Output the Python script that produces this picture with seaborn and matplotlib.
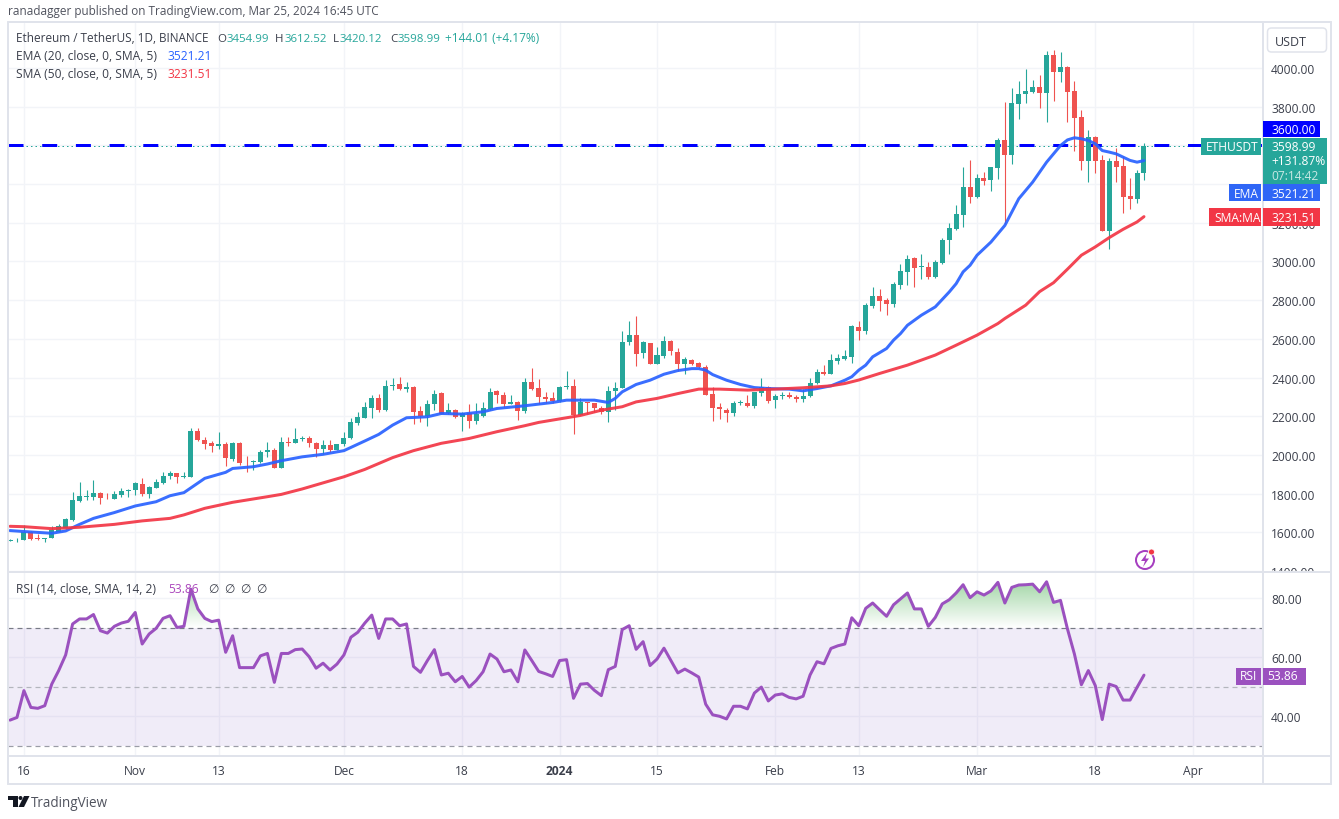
import numpy as np
import pandas as pd
import matplotlib
matplotlib.use("Agg")
import matplotlib.pyplot as plt
from matplotlib.patches import Rectangle, Circle, Polygon, FancyBboxPatch
from matplotlib.colors import LinearSegmentedColormap
from matplotlib.path import Path
import seaborn as sns

# ---------- data ----------
opens = [1556,1558,1559,1603,1568,1566,1569,1604,1624,1664,1763,1785,1784,1804,1783,1772,1793,1815,1817,1851,
         1800,1830,1853,1891,1904,1888,1884,2125,2078,2059,2044,2056,1978,2063,1964,1962,1965,2013,2025,1934,
         2068,2059,2082,2086,2063,2029,2053,2027,2054,2085,2163,2192,2244,2295,2232,2357,2364,2340,2353,2226,
         2199,2261,2318,2215,2232,2197,2219,2175,2202,2238,2330,2312,2264,2275,2228,2378,2346,2300,2295,2278,
         2352,2357,2206,2269,2268,2240,2222,2329,2347,2581,2622,2526,2579,2472,2512,2589,2532,2471,2493,2473,
         2456,2315,2248,2234,2218,2268,2268,2254,2319,2350,2283,2307,2310,2297,2290,2303,2372,2426,2418,2486,
         2496,2507,2663,2639,2772,2822,2801,2782,2880,2944,3018,2972,2973,2918,2992,3109,3169,3238,3384,3333,
         3432,3419,3482,3628,3551,3814,3863,3874,3904,3871,4067,3978,4003,3883,3745,3518,3644,3524,3156,3518,
         3491,3338,3324,3454.99]
closes = [1559,1561,1604,1565,1565,1567,1610,1631,1668,1768,1789,1788,1804,1779,1782,1798,1815,1817,1853,1796,
          1836,1858,1892,1906,1886,1892,2125,2076,2056,2044,2056,1982,2063,1960,1962,1970,2016,2025,1934,2068,
          2064,2083,2086,2060,2030,2051,2027,2056,2089,2168,2194,2247,2295,2230,2357,2358,2340,2352,2223,2202,
          2264,2316,2213,2232,2197,2219,2175,2209,2240,2326,2309,2264,2275,2228,2378,2343,2297,2290,2280,2352,
          2355,2206,2271,2268,2240,2222,2331,2348,2584,2622,2524,2581,2471,2515,2589,2536,2471,2495,2471,2453,
          2312,2243,2235,2218,2268,2271,2254,2323,2350,2281,2307,2310,2297,2290,2307,2374,2426,2416,2489,2502,
          2512,2665,2639,2777,2822,2798,2780,2885,2949,3014,2966,2974,2918,2997,3112,3174,3243,3384,3333,3432,
          3418,3487,3628,3551,3819,3866,3883,3904,3871,4067,3978,4003,3878,3740,3518,3644,3518,3156,3518,3487,
          3334,3324,3455,3598.99]
highs = [1565,1568,1640,1605,1590,1570,1634,1645,1672,1806,1858,1818,1868,1807,1804,1813,1830,1822,1861,1879,
         1838,1873,1913,1917,1907,1910,2137,2140,2094,2071,2119,2068,2068,2066,1996,1976,2023,2068,2037,2094,
         2094,2137,2099,2099,2066,2077,2077,2058,2116,2189,2220,2271,2312,2316,2385,2395,2404,2378,2355,2254,
         2285,2336,2323,2268,2236,2222,2261,2268,2275,2347,2336,2326,2309,2280,2395,2447,2390,2326,2323,2355,
         2433,2390,2295,2275,2270,2254,2357,2378,2641,2691,2718,2587,2580,2558,2615,2592,2553,2507,2498,2481,
         2464,2352,2266,2240,2278,2283,2309,2326,2395,2355,2317,2326,2323,2312,2340,2395,2446,2464,2524,2524,
         2541,2670,2691,2787,2868,2860,2810,2894,2985,3032,3022,3040,2997,3006,3121,3197,3293,3487,3522,3450,
         3462,3490,3637,3823,3895,3931,3995,3940,3964,4088,4093,4081,4008,3935,3783,3677,3648,3551,3534,3585,
         3544,3432,3470,3612.52]
lows = [1553,1552,1558,1558,1562,1548,1568,1600,1620,1660,1755,1765,1767,1748,1772,1770,1784,1784,1791,1789,
        1779,1828,1850,1875,1855,1879,1884,2071,2033,2016,2033,1942,1970,1948,1913,1923,1956,1990,1934,1932,
        2045,2059,2072,2042,1991,2003,2017,2025,2048,2082,2154,2190,2192,2223,2226,2338,2336,2323,2158,2168,
        2151,2233,2210,2209,2192,2123,2140,2158,2198,2233,2268,2247,2262,2180,2218,2335,2261,2268,2266,2276,
        2343,2106,2204,2214,2223,2214,2171,2231,2345,2570,2460,2501,2470,2470,2501,2515,2433,2417,2466,2450,
        2310,2175,2188,2171,2202,2257,2249,2240,2305,2269,2244,2288,2295,2271,2274,2300,2364,2414,2416,2472,
        2490,2477,2593,2624,2760,2743,2722,2765,2860,2877,2868,2908,2908,2916,2985,3040,3161,3178,3303,3330,
        3393,3362,3424,3195,3505,3737,3819,3870,3794,3723,3830,3929,3723,3573,3470,3413,3456,3156,3063,3413,
        3250,3272,3303,3420.12]

ema_idx = [0,2,6,8,10,12,15,18,21,23,25,28,31,32,35,37,39,42,45,48,51,53,55,57,60,62,65,68,70,74,78,80,84,86,87,88,
           90,92,94,96,98,99,100,101,103,105,107,109,112,114,116,118,120,121,122,123,124,126,127,128,129,131,133,
           135,136,137,138,139,141,143,145,147,149,150,151,152,153,154,155,156,157,158,159,160,161,162,163]
ema_vals = [1609,1604,1595,1607,1641,1672,1702,1736,1758,1789,1805,1879,1910,1930,1939,1953,1970,1990,2003,2022,2072,
            2106,2154,2192,2197,2214,2211,2223,2240,2254,2271,2283,2283,2271,2292,2326,2364,2386,2417,2436,2446,2446,
            2438,2415,2386,2364,2348,2343,2340,2331,2343,2357,2386,2404,2438,2464,2507,2550,2593,2627,2670,2722,2765,
            2842,2885,2946,2980,3032,3100,3186,3324,3410,3513,3556,3599,3628,3639,3634,3625,3608,3573,3565,3556,3539,
            3522,3513,3521.21]

sma_idx = [0,2,6,10,15,19,23,25,28,32,37,39,42,48,51,55,58,62,66,70,74,76,80,82,85,88,90,93,96,99,102,106,110,114,118,
           120,122,125,129,133,136,139,142,143,146,148,150,152,154,156,158,160,162,163]
sma_vals = [1631,1629,1619,1626,1641,1659,1672,1690,1724,1755,1784,1796,1824,1887,1925,1986,2022,2060,2085,2120,2151,
            2168,2192,2204,2231,2249,2274,2292,2317,2340,2340,2335,2340,2347,2357,2369,2387,2421,2464,2516,2567,2619,
            2679,2705,2774,2844,2890,2960,3032,3075,3123,3166,3204,3231.51]

rsi_vals = [38.6,39.5,48.6,42.9,42.6,43.5,50.8,55.4,60.7,71.2,72.9,72.9,74.4,68.9,68.1,70.4,71.5,72.1,75.1,64.4,
            67.8,69.7,73.1,74.0,70.0,70.4,83.0,76.3,73.1,72.0,72.5,61.6,67.2,56.4,56.4,56.4,60.4,61.2,51.4,61.2,
            61.2,62.5,62.7,60.1,56.2,57.9,55.6,57.6,60.7,66.7,68.4,71.5,74.2,66.3,72.9,72.9,70.6,71.2,56.8,54.8,
            58.8,62.5,53.9,54.5,51.6,53.4,49.8,52.0,55.0,61.0,59.3,55.0,55.6,51.6,62.4,58.8,55.1,54.3,53.4,58.8,
            59.1,46.0,50.8,51.0,48.7,46.9,55.7,56.8,69.3,70.6,62.6,65.2,57.1,59.3,63.0,58.8,54.6,55.9,54.6,53.2,
            44.0,40.4,39.9,39.0,43.3,43.3,42.4,47.8,49.8,45.1,47.1,47.5,46.3,45.8,46.7,53.9,58.4,57.7,62.9,63.8,
            64.4,73.3,70.6,76.5,78.3,76.0,73.8,77.7,79.7,81.7,76.3,76.3,70.4,73.4,78.0,79.4,81.7,84.5,80.1,82.1,
            81.0,82.4,85.3,78.3,83.6,84.4,84.5,84.7,82.1,85.5,78.5,79.2,69.5,61.0,50.6,55.4,50.3,38.8,50.8,50.0,
            45.4,45.4,49.7,53.86]

price_ticks = [1400,1600,1800,2000,2200,2400,2600,2800,3000,3200,3400,3600,3800,4000]
hidden_price_labels = [3400,3600]
rsi_ticks = [40,60,80]
time_tick_idx = [2,18,30,48,65,79,93,110,122,139,156,170]
time_tick_labels = ["16","Nov","13","Dec","18","2024","15","Feb","13","Mar","18","Apr"]
bold_ticks = ["2024"]

# ---------- style ----------
W, H = 1339, 820
sns.set_theme(style="white")
FONT = ["Open Sans", "DejaVu Sans"]
plt.rcParams["font.family"] = FONT
plt.rcParams["lines.scale_dashes"] = False

GREEN, RED, BLUE, SMA_RED = "#26a69a", "#ef5350", "#2962ff", "#f23645"
PURPLE, TXT, BORDER, GRID = "#9b51bf", "#3b3f4b", "#e0e3eb", "#f2f4f8"
px = 0.72  # points per pixel at dpi 100

def fx(x): return x / W
def fy(y): return 1 - y / H
def axes_rect(x0, y0, x1, y1):
    return [fx(x0), fy(y1), (x1 - x0) / W, (y1 - y0) / H]

fig = plt.figure(figsize=(W / 100, H / 100), dpi=100, facecolor="white")
ax = fig.add_axes(axes_rect(8, 24, 1262, 572))
ax_r = fig.add_axes(axes_rect(8, 573, 1262, 757))

X0, STEP = 10.0, 6.957
xlim = ((8 - X0) / STEP, (1262 - X0) / STEP)

df = pd.DataFrame({"open": opens, "high": highs, "low": lows, "close": closes})
df["i"] = np.arange(len(df))
df["color"] = np.where(df["close"] >= df["open"], GREEN, RED)

# ---------- main pane ----------
for a in (ax, ax_r):
    a.set_xlim(*xlim)
    a.set_xticks(time_tick_idx)
    a.grid(True, axis="both", color=GRID, lw=1.4 * px, zorder=0)
    a.set_axisbelow(True)
    for s in a.spines.values():
        s.set_visible(False)

ax.set_ylim(4000 - (572 - 69) / 0.19375, 4000 + (69 - 24) / 0.19375)
ax.yaxis.tick_right()
ax.set_yticks(price_ticks)
ax.set_yticklabels(["" if p in hidden_price_labels else f"{p:.2f}" for p in price_ticks], fontsize=12 * px, color=TXT)
ax.tick_params(axis="y", length=0, pad=9 * px)
ax.tick_params(axis="x", length=0, labelbottom=False)

# level line and last price line
ax.axhline(3600, color="#0000ff", lw=3 * px, ls=(0, (15 * px, 18.7 * px)), zorder=1.5, dash_capstyle="butt")
ax.axhline(3598.99, color=GREEN, lw=1 * px, ls=(0, (1.5 * px, 3 * px)), zorder=1.4)

ax.vlines(df["i"], df["low"], df["high"], colors=df["color"], lw=1.1 * px, zorder=2)
ax.bar(df["i"], (df["close"] - df["open"]).abs().clip(lower=3), bottom=df[["open", "close"]].min(axis=1),
       width=0.72, color=df["color"], edgecolor="none", zorder=3)

sns.lineplot(x=ema_idx, y=ema_vals, ax=ax, color=BLUE, lw=3 * px, estimator=None, sort=False, zorder=4, alpha=0.92)
sns.lineplot(x=sma_idx, y=sma_vals, ax=ax, color=SMA_RED, lw=3 * px, estimator=None, sort=False, zorder=4, alpha=0.92)
ax.set_xlabel(""); ax.set_ylabel("")

# clip the price scale to its pane
clip = Rectangle((8 / W, fy(572)), 1331 / W, 548 / H, transform=fig.transFigure)
for lab in ax.get_yticklabels():
    lab.set_clip_path(clip)

# ---------- RSI pane ----------
ax_r.set_ylim(80 - (757 - 599) / 2.95, 80 + (599 - 573) / 2.95)
ax_r.yaxis.tick_right()
ax_r.set_yticks(rsi_ticks)
ax_r.set_yticklabels([f"{p:.2f}" for p in rsi_ticks], fontsize=12 * px, color=TXT)
ax_r.tick_params(axis="y", length=0, pad=9 * px)
ax_r.set_xticklabels(time_tick_labels, fontsize=12 * px, color=TXT)
for lab, txt in zip(ax_r.get_xticklabels(), time_tick_labels):
    if txt in bold_ticks:
        lab.set_fontweight("bold")
ax_r.tick_params(axis="x", length=0, pad=8 * px)

ax_r.axhspan(30, 70, color="#7e57c2", alpha=0.11, lw=0, zorder=1)
ax_r.axhline(70, color="#787b86", lw=1.2 * px, ls=(0, (5 * px, 4 * px)), zorder=2)
ax_r.axhline(50, color="#b3b5bd", lw=1.2 * px, ls=(0, (5 * px, 4 * px)), zorder=2)
ax_r.axhline(30, color="#9a9ca6", lw=1.2 * px, ls=(0, (5 * px, 4 * px)), zorder=2)

ri = np.arange(len(rsi_vals))
over = ax_r.fill_between(ri, 70, rsi_vals, where=np.array(rsi_vals) >= 70, interpolate=True, lw=0)
comp = Path.make_compound_path(*over.get_paths())
over.remove()
cmap = LinearSegmentedColormap.from_list("ob", ["#ffffff", "#a2d6a6"])
grad = np.linspace(0, 1, 64).reshape(-1, 1)
im = ax_r.imshow(grad, cmap=cmap, origin="lower", aspect="auto", extent=(xlim[0], xlim[1], 70, 86), zorder=1.5)
im.set_clip_path(comp, transform=ax_r.transData)
ax_r.set_xlim(*xlim)
ax_r.set_ylim(80 - (757 - 599) / 2.95, 80 + (599 - 573) / 2.95)

sns.lineplot(x=ri, y=rsi_vals, ax=ax_r, color=PURPLE, lw=3 * px, estimator=None, sort=False, zorder=4)
ax_r.set_xlabel(""); ax_r.set_ylabel("")

# ---------- frame ----------
def hline(y, x0=8, x1=1331, lw=2):
    fig.add_artist(plt.Line2D([fx(x0), fx(x1)], [fy(y), fy(y)], color=BORDER, lw=lw * px, transform=fig.transFigure, zorder=1))
def vline(x, y0=23, y1=785, lw=2):
    fig.add_artist(plt.Line2D([fx(x), fx(x)], [fy(y0), fy(y1)], color=BORDER, lw=lw * px, transform=fig.transFigure, zorder=1))
hline(23); hline(572.5); hline(757); hline(785)
vline(8); vline(1262.5); vline(1331)

# ---------- texts ----------
def t(x, y, s, color=TXT, size=12, ha="left", weight="normal", zorder=8):
    fig.text(fx(x), fy(y + 1), s, color=color, fontsize=size * px, ha=ha, va="center", fontweight=weight, zorder=zorder, family=FONT)

t(8, 11, "ranadagger published on TradingView.com, Mar 25, 2024 16:45 UTC", size=11.8, color="#50535e")
t(16, 38, "Ethereum / TetherUS, 1D, BINANCE", size=11.7)
for x, lab, x2, val in [(217, "O", 226.5, "3454.99"), (275, "H", 284.5, "3612.52"), (333, "L", 340, "3420.12"), (390, "C", 398, "3598.99")]:
    t(x, 38, lab, size=11.5); t(x2, 38, val, color=GREEN, size=11.5)
t(445, 38, "+144.01 (+4.17%)", color=GREEN, size=11.9)
t(16, 56, "EMA (20, close, 0, SMA, 5)")
t(167, 56, "3521.21", color=BLUE)
t(16, 73, "SMA (50, close, 0, SMA, 5)")
t(167, 73, "3231.51", color=SMA_RED)
t(16, 589, "RSI (14, close, SMA, 14, 2)")
t(168, 589, "53.86", color="#ab47bc")
for x in (208, 224, 240, 256):
    t(x, 589, "\u2205", size=12)

# price labels on the scale
def box(x0, y0, x1, y1, color, z=5):
    fig.add_artist(FancyBboxPatch((fx(x0), fy(y1)), (x1 - x0) / W, (y1 - y0) / H, boxstyle="square,pad=0", fc=color, ec="none",
                                  transform=fig.transFigure, zorder=z))

fig.add_artist(FancyBboxPatch((1267.5, H - 53), 59, 24, boxstyle="round,pad=0,rounding_size=4", fc="white", ec=BORDER, lw=1.5 * px,
                              transform=None, zorder=5))
t(1275, 41, "USDT", size=12.5)
box(1263, 122, 1320, 138, "#0000ff"); t(1271, 130, "3600.00", color="white")
box(1201, 139, 1261, 156, GREEN); t(1206, 147, "ETHUSDT", color="white")
box(1263, 139, 1327, 185, GREEN)
t(1271, 147, "3598.99", color="white"); t(1271, 161, "+131.87%", color="white"); t(1271, 176, "07:14:42", color="#c8e8e4")
box(1229, 185, 1261, 202, "#2f66f6"); t(1234, 193, "EMA", color="white")
box(1263, 185, 1320, 202, "#2f66f6"); t(1271, 193, "3521.21", color="white")
box(1209, 209, 1261, 227, SMA_RED); t(1214, 217, "SMA:MA", color="white")
box(1263, 209, 1320, 227, SMA_RED); t(1271, 217, "3231.51", color="white")
box(1236, 669, 1261, 686, PURPLE); t(1240, 676, "RSI", color="white")
box(1263, 669, 1306, 686, PURPLE); t(1267, 676, "53.86", color="white")

# TradingView logo and name
logo = "#131722"
def poly(pts, color=logo):
    fig.add_artist(Polygon([(fx(a), fy(b)) for a, b in pts], closed=True, fc=color, ec="none", transform=fig.transFigure, zorder=6))
poly([(8, 797), (18, 797), (18, 808), (13, 808), (13, 801), (8, 801)])
poly([(24, 797), (29.5, 797), (24, 808), (18.5, 808)])
fig.add_artist(Circle((20.5, H - 799), 2, fc=logo, ec="none", transform=None, zorder=6))
t(31, 802.5, "TradingView", size=13.5, color="#50535e")

# events icon
fig.add_artist(Circle((1145, H - 561), 9, fc="white", ec="#a63fc0", lw=2 * px, transform=None, zorder=6))
poly([(1147, 554), (1141, 562), (1145, 562), (1143, 568), (1149, 559.5), (1145.5, 559.5)], color="#a63fc0")
fig.add_artist(Circle((1151.5, H - 553), 3, fc="#f23645", ec="white", lw=0.8 * px, transform=None, zorder=7))

fig.savefig("out.png", dpi=100, facecolor="white")
